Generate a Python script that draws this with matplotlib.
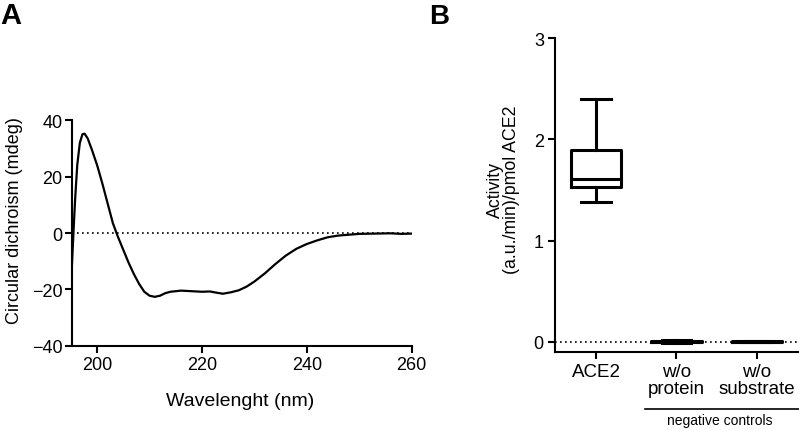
import matplotlib
matplotlib.use("Agg")
import matplotlib.pyplot as plt
import numpy as np

plt.rcParams['font.family'] = ['Liberation Sans', 'DejaVu Sans']

# panel A: CD spectrum
wavelength = [195.2, 195.5, 195.8, 196.2, 196.7, 197.2, 197.6, 198.2, 199.0, 200.0,
              201.0, 202.0, 203.0, 204.0, 205.0, 206.0, 207.0, 208.0, 209.0, 210.0,
              211.0, 212.0, 213.0, 214.0, 216.0, 218.0, 220.0, 221.5, 223.0, 224.0,
              225.5, 227.0, 228.5, 230.0, 232.0, 234.0, 236.0, 238.0, 240.0, 242.0,
              244.0, 246.0, 248.0, 250.0, 253.0, 256.0, 258.0, 260.0]
cd = [-11, 1, 12, 24, 32, 35, 35.2, 33.5, 29.5, 24,
      17.5, 10.5, 3.5, -1.5, -6, -10.5, -14.5, -18, -20.8, -22.2,
      -22.6, -22.2, -21.3, -20.8, -20.4, -20.6, -20.8, -20.7, -21.2, -21.5,
      -21.0, -20.3, -19.0, -17.2, -14.3, -11.0, -8.0, -5.6, -3.9, -2.6,
      -1.5, -0.9, -0.6, -0.3, -0.2, -0.1, -0.3, -0.2]

# panel B: activity box plots
groups = ["ACE2", "w/o\nprotein", "w/o\nsubstrate"]
whis_low = [1.38, -0.012, -0.002]
q1 = [1.53, -0.004, -0.001]
median = [1.61, 0.0, 0.0]
q3 = [1.90, 0.004, 0.001]
whis_high = [2.40, 0.012, 0.002]

fig = plt.figure(figsize=(7.99, 4.31), dpi=100)

axA = fig.add_axes([0.0901, 0.195, 0.425, 0.524])
axA.plot(wavelength, cd, color='black', lw=1.6)
axA.axhline(0, color='black', lw=1.2, ls=(0, (1, 2)), zorder=0)
axA.set_xlim(195.2, 260)
axA.set_ylim(-40, 40)
axA.set_xticks([200, 220, 240, 260])
axA.set_yticks([-40, -20, 0, 20, 40])
axA.spines['top'].set_visible(False)
axA.spines['right'].set_visible(False)
for s in ['left', 'bottom']:
    axA.spines[s].set_linewidth(1.5)
axA.tick_params(width=1.5, length=5, labelsize=13, pad=2)
axA.set_xlabel("Wavelenght (nm)", fontsize=14)
axA.set_ylabel("Circular dichroism (mdeg)", fontsize=13)
axA.xaxis.set_label_coords(0.495, -0.205)
axA.yaxis.set_label_coords(-0.144, 0.56)

axB = fig.add_axes([0.6946, 0.1817, 0.305, 0.727])
stats = []
for i in range(len(groups)):
    stats.append({'whislo': whis_low[i], 'q1': q1[i], 'med': median[i],
                  'q3': q3[i], 'whishi': whis_high[i], 'fliers': []})
lp = dict(color='black', linewidth=2.2)
axB.bxp(stats, positions=range(len(groups)), widths=0.63, capwidths=0.37,
        boxprops=lp, medianprops=lp, whiskerprops=lp, capprops=lp,
        showfliers=False, manage_ticks=False)
axB.axhline(0, color='black', lw=1.2, ls=(0, (1, 2)), zorder=0)
axB.set_xlim(-0.51, 2.52)
axB.set_ylim(-0.1, 3)
axB.set_yticks([0, 1, 2, 3])
axB.set_xticks(range(len(groups)))
axB.set_xticklabels(groups, fontsize=13.5, linespacing=1.05)
axB.spines['top'].set_visible(False)
axB.spines['right'].set_visible(False)
for s in ['left', 'bottom']:
    axB.spines[s].set_linewidth(1.5)
axB.tick_params(axis='y', labelsize=13)
axB.tick_params(width=1.5, length=5, pad=3)
axB.set_ylabel("Activity\n(a.u./min)/pmol ACE2", fontsize=12.8, linespacing=0.95)
axB.yaxis.set_label_coords(-0.144, 0.52)

trans = axB.get_xaxis_transform()
axB.plot([0.61, 2.6], [-0.183, -0.183], color='black', lw=1.2,
         transform=trans, clip_on=False)
axB.text(1.54, -0.195, "negative controls", transform=trans,
         ha='center', va='top', fontsize=10)

fig.text(0.0, 0.995, "A", fontsize=21, fontweight='bold', va='top', ha='left')
fig.text(0.537, 0.99, "B", fontsize=20, fontweight='bold', va='top', ha='left')

fig.savefig("out.png", dpi=100)
